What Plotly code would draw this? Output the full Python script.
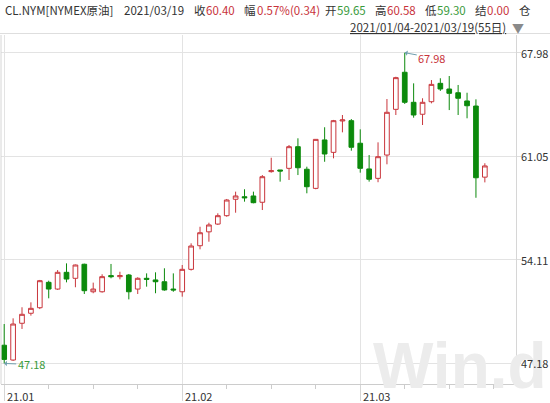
import plotly.graph_objects as go

# ---------------- data ----------------
dates = [
    "2021-01-04", "2021-01-05", "2021-01-06", "2021-01-07", "2021-01-08",
    "2021-01-11", "2021-01-12", "2021-01-13", "2021-01-14", "2021-01-15",
    "2021-01-18", "2021-01-19", "2021-01-20", "2021-01-21", "2021-01-22",
    "2021-01-25", "2021-01-26", "2021-01-27", "2021-01-28", "2021-01-29",
    "2021-02-01", "2021-02-02", "2021-02-03", "2021-02-04", "2021-02-05",
    "2021-02-08", "2021-02-09", "2021-02-10", "2021-02-11", "2021-02-12",
    "2021-02-15", "2021-02-16", "2021-02-17", "2021-02-18", "2021-02-19",
    "2021-02-22", "2021-02-23", "2021-02-24", "2021-02-25", "2021-02-26",
    "2021-03-01", "2021-03-02", "2021-03-03", "2021-03-04", "2021-03-05",
    "2021-03-08", "2021-03-09", "2021-03-10", "2021-03-11", "2021-03-12",
    "2021-03-15", "2021-03-16", "2021-03-17", "2021-03-18", "2021-03-19",
]
open_ = [48.40, 47.41, 49.87, 50.54, 50.91, 52.61, 52.16, 53.28, 52.88, 53.82,
         51.98, 51.98, 53.06, 52.99, 53.10, 52.16, 52.88, 52.77, 52.65, 52.16,
         51.98, 53.48, 55.06, 55.99, 56.51, 57.07, 58.17, 58.34, 58.39, 57.97,
         60.02, 60.13, 60.24, 61.69, 60.18, 58.90, 62.14, 61.31, 63.41, 63.43,
         61.92, 60.20, 59.57, 61.13, 64.19, 66.67, 64.66, 63.86, 64.70, 65.93,
         65.55, 65.30, 64.75, 64.41, 59.65]
high = [49.82, 50.20, 50.94, 51.27, 52.77, 52.72, 53.43, 53.88, 53.80, 53.86,
        52.59, 53.15, 53.84, 53.32, 53.17, 52.95, 53.21, 53.28, 53.55, 53.21,
        53.77, 55.22, 56.33, 56.60, 57.23, 58.19, 58.68, 58.84, 58.68, 59.79,
        60.95, 60.13, 61.80, 62.25, 60.35, 62.18, 62.99, 63.48, 63.81, 63.54,
        62.85, 61.13, 61.98, 64.88, 66.37, 67.98, 65.93, 64.93, 66.15, 66.27,
        66.42, 65.82, 65.30, 64.86, 60.58]
low = [47.18, 47.35, 49.49, 50.38, 50.82, 51.54, 52.10, 52.61, 52.28, 51.83,
       51.88, 51.92, 52.88, 52.81, 51.47, 51.83, 52.32, 51.88, 52.05, 51.98,
       51.65, 53.40, 54.82, 55.33, 56.45, 57.00, 57.27, 58.01, 57.90, 57.45,
       59.95, 59.35, 59.46, 59.79, 58.57, 58.84, 60.68, 60.91, 62.65, 61.42,
       59.95, 59.35, 59.31, 60.51, 63.81, 64.55, 63.63, 63.14, 64.59, 65.42,
       64.14, 63.81, 63.59, 58.27, 59.30]
close = [47.45, 49.82, 50.47, 50.87, 52.72, 52.16, 53.28, 52.83, 53.77, 52.05,
         52.16, 52.99, 52.99, 53.06, 51.98, 52.88, 52.81, 52.65, 52.10, 52.10,
         53.48, 55.04, 55.93, 56.45, 57.07, 58.12, 58.39, 58.27, 57.94, 59.68,
         60.08, 60.06, 61.69, 60.28, 59.01, 62.18, 61.20, 63.43, 63.48, 61.65,
         60.24, 59.51, 61.02, 63.99, 66.31, 64.66, 63.81, 64.66, 65.86, 65.55,
         65.26, 64.93, 64.43, 59.61, 60.40]

y_ticks = [47.18, 54.11, 61.05, 67.98]
month_pos = [0, 20, 40]
month_labels = ["21.01", "21.02", "21.03"]
minor_pos = [5, 10, 15, 25, 30, 35, 45, 50, 55]

header_items = [
    ("CL.NYM[NYMEX原油]", "label"), ("2021/03/19", "label"),
    ("收", "label"), ("60.40", "up"), ("幅", "label"), ("0.57%(0.34)", "up"),
    ("开", "label"), ("59.65", "down"), ("高", "label"), ("60.58", "up"),
    ("低", "label"), ("59.30", "down"), ("结", "label"), ("0.00", "up"),
    ("仓", "label"),
]
range_text = "2021/01/04-2021/03/19(55日)"

# ---------------- style / layout ----------------
W, H = 550, 403
L, R, T, B = 1, 34, 35, 19
PW, PH = W - L - R, H - T - B
RED = "#c9363c"
GREEN = "#0c8a0c"
TXT_RED = "#c8323a"
TXT_GREEN = "#3a9a3a"
GRAY_TXT = "#333333"
GRID = "#e3e3e3"
colors = {"label": GRAY_TXT, "up": TXT_RED, "down": TXT_GREEN}
FONT = "Noto Sans CJK SC, Open Sans, sans-serif"

def px_x(p):
    return (p - L) / PW

def px_y(p):
    return (H - B - p) / PH

xs = list(range(len(dates)))

fig = go.Figure()
fig.add_trace(go.Candlestick(
    x=xs, open=open_, high=high, low=low, close=close,
    text=dates, hoverinfo="text+y",
    increasing=dict(line=dict(color=RED, width=1), fillcolor="white"),
    decreasing=dict(line=dict(color=GREEN, width=1), fillcolor=GREEN),
    whiskerwidth=0, showlegend=False,
))

annotations = []
# watermark (first so it sits beneath other texts)
annotations.append(dict(
    text="<b>Win.d</b>", xref="paper", yref="paper", x=px_x(371), y=px_y(366),
    xanchor="left", yanchor="middle", showarrow=False,
    font=dict(family="Liberation Sans, Arial, sans-serif", size=64, color="#ececec")))

# header line 1
header_x = [3, 122, 192, 204, 242, 255, 323, 335, 373, 385, 423, 435, 473, 485, 517]
for (txt, kind), xp in zip(header_items, header_x):
    annotations.append(dict(
        text=txt, xref="paper", yref="paper", x=px_x(xp), y=px_y(10),
        xanchor="left", yanchor="middle", showarrow=False,
        font=dict(family=FONT, size=11.5, color=colors[kind])))
# header line 2
annotations.append(dict(
    text="<u>" + range_text + "</u>", xref="paper", yref="paper",
    x=px_x(508), y=px_y(27), xanchor="right", yanchor="middle", showarrow=False,
    font=dict(family=FONT, size=11.5, color=GRAY_TXT)))
annotations.append(dict(
    text="▼", xref="paper", yref="paper", x=px_x(510), y=px_y(27),
    xanchor="left", yanchor="middle", showarrow=False,
    font=dict(family=FONT, size=12, color="#8a8a8a")))

# month labels
for pos, lab in zip(month_pos, month_labels):
    annotations.append(dict(
        text=lab, xref="x", yref="paper", x=pos, y=0, xanchor="left",
        yanchor="top", xshift=1, yshift=-2, showarrow=False,
        font=dict(family=FONT, size=11, color=GRAY_TXT)))

# y labels (right side)
for v in y_ticks:
    annotations.append(dict(
        text=f"{v:.2f}", xref="paper", yref="y", x=px_x(519), y=v,
        xanchor="left", yanchor="middle", showarrow=False,
        font=dict(family=FONT, size=11, color=GRAY_TXT)))

# max / min markers
imax = high.index(max(high))
imin = low.index(min(low))
annotations.append(dict(
    text=f"{max(high):.2f}", x=imax, y=max(high), xref="x", yref="y",
    showarrow=True, arrowhead=1, arrowsize=0.9, arrowwidth=1,
    arrowcolor="#6f9fae", ax=27, ay=5,
    font=dict(family=FONT, size=11, color=TXT_RED)))
annotations.append(dict(
    text=f"{min(low):.2f}", x=imin, y=min(low), xref="x", yref="y",
    showarrow=True, arrowhead=1, arrowsize=0.9, arrowwidth=1,
    arrowcolor="#6f9fae", ax=27, ay=1,
    font=dict(family=FONT, size=11, color=TXT_GREEN)))

shapes = [
    dict(type="line", xref="paper", yref="paper", x0=px_x(0), x1=px_x(550),
         y0=px_y(33.5), y1=px_y(33.5), line=dict(color="#dedede", width=1)),
    dict(type="line", xref="paper", yref="paper", x0=px_x(1), x1=px_x(1),
         y0=0, y1=1, line=dict(color="#d6d6d6", width=1)),
]

fig.update_layout(
    width=W, height=H,
    margin=dict(l=L, r=R, t=T, b=B, pad=0),
    paper_bgcolor="white", plot_bgcolor="white",
    boxgap=0.25,
    showlegend=False,
    annotations=annotations,
    shapes=shapes,
    xaxis=dict(
        range=[-0.36, 57.5], rangeslider=dict(visible=False),
        tickmode="array", tickvals=month_pos, showticklabels=False,
        ticks="outside", ticklen=16, tickcolor="#d6d6d6", tickwidth=1,
        showgrid=True, gridcolor=GRID, gridwidth=1, zeroline=False,
        showline=True, linecolor="#cccccc", linewidth=1,
        minor=dict(tickmode="array", tickvals=minor_pos, ticks="outside",
                   ticklen=4, tickcolor="#cccccc", showgrid=False),
        fixedrange=True,
    ),
    yaxis=dict(
        side="right", range=[45.805, 69.165],
        tickmode="array", tickvals=y_ticks, showticklabels=False,
        ticks="outside", ticklen=4, tickcolor="#dddddd",
        showgrid=True, gridcolor=GRID, gridwidth=1, zeroline=False,
        showline=True, linecolor="#d6d6d6", linewidth=1,
        fixedrange=True,
    ),
)

fig.write_html(
    "out.html",
    config={"displayModeBar": False},
    post_script="document.body.style.margin='0px';document.body.style.overflow='hidden';",
)
